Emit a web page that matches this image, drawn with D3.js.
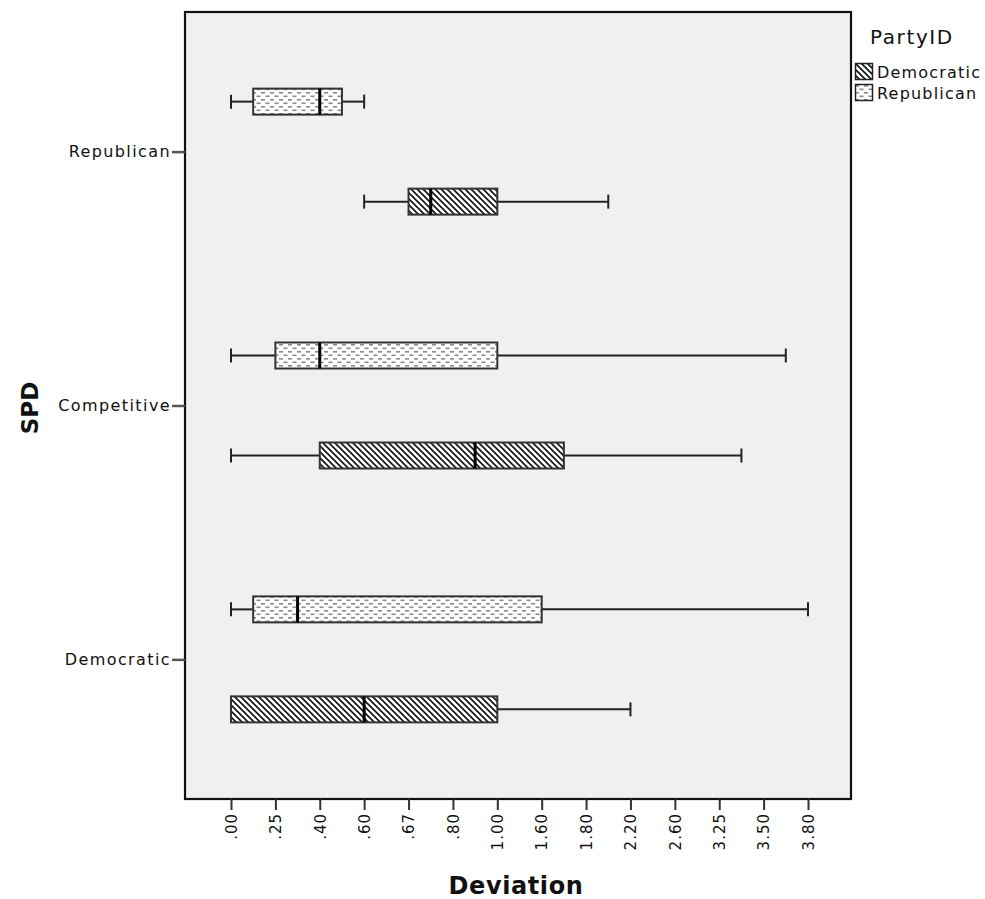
<!DOCTYPE html>
<html>
<head>
<meta charset="utf-8">
<script src="https://cdn.jsdelivr.net/npm/d3@7"></script>
<style>
  html, body { margin: 0; padding: 0; background: #ffffff; }
  svg text { font-family: "DejaVu Sans", Verdana, sans-serif; }
</style>
</head>
<body>
<svg id="chart" width="985" height="899"></svg>
<script>
// ---- data ----
const devCategories = [".00",".20",".25",".33",".40",".50",".60",".64",".67",".75",".80",".90",
  "1.00","1.20","1.60","1.70","1.80","2.00","2.20","2.40","2.60","3.00","3.25","3.40","3.50","3.60","3.80"];
const devTickLabels = [".00",".25",".40",".60",".67",".80","1.00","1.60","1.80","2.20","2.60","3.25","3.50","3.80"];
const spdCategories = ["Republican","Competitive","Democratic"];
const partyGroups = ["Republican","Democratic"];      // order inside each SPD band (top to bottom)
const legendParties = ["Democratic","Republican"];
// five-number summaries per [SPD, Party]
const boxSpd    = ["Republican","Republican","Competitive","Competitive","Democratic","Democratic"];
const boxParty  = ["Republican","Democratic","Republican","Democratic","Republican","Democratic"];
const boxMin    = [".00",".60",".00",".00",".00",".00"];
const boxQ1     = [".20",".67",".25",".40",".20",".00"];
const boxMedian = [".40",".75",".40",".90",".33",".60"];
const boxQ3     = [".50","1.00","1.00","1.70","1.60","1.00"];
const boxMax    = [".60","2.00","3.60","3.40","3.80","2.20"];

// ---- layout ----
const svg = d3.select("#chart");
const plot = {left: 185, right: 851, top: 12, bottom: 799};

const defs = svg.append("defs");
const hatch = defs.append("pattern").attr("id","hatch").attr("patternUnits","userSpaceOnUse")
  .attr("width",6).attr("height",6);
hatch.append("rect").attr("width",6).attr("height",6).attr("fill","#ffffff");
hatch.append("path").attr("d","M-1,-1 L7,7 M-4,2 L2,8 M4,-2 L8,2")
  .attr("stroke","#111").attr("stroke-width",1.6);
const dots = defs.append("pattern").attr("id","dots").attr("patternUnits","userSpaceOnUse")
  .attr("width",9).attr("height",7);
dots.append("rect").attr("width",9).attr("height",7).attr("fill","#ffffff");
dots.append("rect").attr("x",0).attr("y",1).attr("width",4).attr("height",1.6).attr("fill","#8a8a8a");
dots.append("rect").attr("x",4.5).attr("y",4.5).attr("width",4).attr("height",1.6).attr("fill","#8a8a8a");
const fillFor = {Democratic: "url(#hatch)", Republican: "url(#dots)"};

// plot background + frame
svg.append("rect").attr("x",plot.left).attr("y",plot.top)
  .attr("width",plot.right-plot.left).attr("height",plot.bottom-plot.top)
  .attr("fill","#f0f0f0").attr("stroke","#111").attr("stroke-width",2.2);

const x = d3.scalePoint().domain(devCategories).range([231, 808]);
const y = d3.scalePoint().domain(spdCategories).range([plot.top, plot.bottom]).padding(0.55);
const offset = d3.scalePoint().domain(partyGroups).range([-50, 50]);
const boxH = 26, capH = 14;

// x axis
const xAxis = d3.axisBottom(x).tickValues(devTickLabels).tickSize(11).tickSizeOuter(0);
const gx = svg.append("g").attr("transform",`translate(0,${plot.bottom})`).call(xAxis);
gx.select(".domain").remove();
gx.selectAll(".tick line").attr("stroke","#333").attr("stroke-width",2);
gx.selectAll(".tick text")
  .attr("transform","rotate(-90)")
  .attr("x",-14).attr("y",0).attr("dy","0.35em")
  .attr("text-anchor","end")
  .attr("font-size",15).attr("letter-spacing","1px").attr("fill","#111")
  .style("font-family","DejaVu Sans, Verdana, sans-serif");

// y axis
const yAxis = d3.axisLeft(y).tickSize(13).tickSizeOuter(0);
const gy = svg.append("g").attr("transform",`translate(${plot.left},0)`).call(yAxis);
gy.select(".domain").remove();
gy.selectAll(".tick line").attr("stroke","#555").attr("stroke-width",2.5);
gy.selectAll(".tick text").attr("x",-14).attr("font-size",16).attr("letter-spacing","1.4px").attr("fill","#111")
  .style("font-family","DejaVu Sans, Verdana, sans-serif");

// axis titles
svg.append("text").attr("x",516).attr("y",894).attr("text-anchor","middle")
  .attr("font-size",24).attr("letter-spacing","0.6px").attr("font-weight","bold").attr("fill","#111").text("Deviation");
svg.append("text").attr("transform","translate(38,408) rotate(-90)").attr("text-anchor","middle")
  .attr("font-size",23).attr("font-weight","bold").attr("fill","#111").text("SPD");

// boxes
const boxes = boxSpd.map((s,i) => ({spd: s, party: boxParty[i], min: boxMin[i], q1: boxQ1[i],
  med: boxMedian[i], q3: boxQ3[i], max: boxMax[i]}));
const gb = svg.append("g");
boxes.forEach(b => {
  const cy = y(b.spd) + offset(b.party);
  const g = gb.append("g");
  // whiskers
  g.append("line").attr("x1",x(b.min)).attr("x2",x(b.q1)).attr("y1",cy).attr("y2",cy)
    .attr("stroke","#222").attr("stroke-width",2);
  g.append("line").attr("x1",x(b.q3)).attr("x2",x(b.max)).attr("y1",cy).attr("y2",cy)
    .attr("stroke","#222").attr("stroke-width",2);
  [b.min, b.max].forEach(v => {
    g.append("line").attr("x1",x(v)).attr("x2",x(v)).attr("y1",cy-capH/2).attr("y2",cy+capH/2)
      .attr("stroke","#222").attr("stroke-width",2);
  });
  // box
  g.append("rect").attr("x",x(b.q1)).attr("y",cy-boxH/2)
    .attr("width",Math.max(0,x(b.q3)-x(b.q1))).attr("height",boxH)
    .attr("fill",fillFor[b.party]).attr("stroke","#333").attr("stroke-width",2);
  // median
  g.append("line").attr("x1",x(b.med)).attr("x2",x(b.med))
    .attr("y1",cy-boxH/2).attr("y2",cy+boxH/2).attr("stroke","#000").attr("stroke-width",3);
});

// legend
svg.append("text").attr("x",870).attr("y",44).attr("font-size",20).attr("letter-spacing","1.6px")
  .attr("fill","#111").text("PartyID");
const lg = svg.append("g").attr("transform","translate(855,63)");
legendParties.forEach((p,i) => {
  const row = lg.append("g").attr("transform",`translate(0,${i*21})`);
  row.append("rect").attr("x",0.5).attr("y",0.5).attr("width",17).attr("height",16)
    .attr("fill",fillFor[p]).attr("stroke","#222").attr("stroke-width",1.5);
  row.append("text").attr("x",22).attr("y",15).attr("font-size",16).attr("letter-spacing","1.2px")
    .attr("fill","#111").text(p);
});
</script>
</body>
</html>
